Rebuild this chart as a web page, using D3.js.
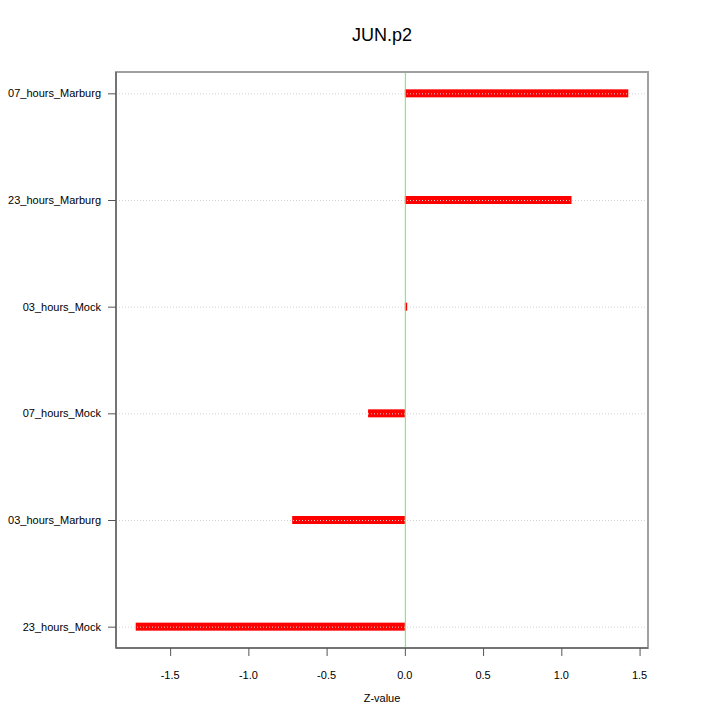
<!DOCTYPE html>
<html>
<head>
<meta charset="utf-8">
<script src="https://cdn.jsdelivr.net/npm/d3@7"></script>
<style>
  body { margin: 0; background: #fff; }
  svg { display: block; font-family: "Liberation Sans", Arial, Helvetica, sans-serif; }
</style>
</head>
<body>
<svg id="chart" width="720" height="720"></svg>
<script>
// data, bottom to top as plotted
const categories = ['23_hours_Mock', '03_hours_Marburg', '07_hours_Mock', '03_hours_Mock', '23_hours_Marburg', '07_hours_Marburg'];
const zValues = [-1.72, -0.72, -0.235, 0.015, 1.065, 1.428];
const xTicks = [-1.5, -1.0, -0.5, 0.0, 0.5, 1.0, 1.5];

const plotL = 116, plotR = 648, plotT = 72, plotB = 648;
const svg = d3.select('#chart');

// R style 4% padding
const xr = d3.extent(zValues);
const xpad = (xr[1] - xr[0]) * 0.04;
const x = d3.scaleLinear().domain([xr[0] - xpad, xr[1] + xpad]).range([plotL, plotR]);
const n = categories.length;
const ypad = (n - 1) * 0.04;
const y = d3.scaleLinear().domain([1 - ypad, n + ypad]).range([plotB, plotT]);

// bars
svg.append('g')
  .selectAll('rect')
  .data(zValues)
  .enter()
  .append('rect')
  .attr('x', d => Math.min(x(0), x(d)))
  .attr('width', d => Math.max(1.5, Math.abs(x(d) - x(0))))
  .attr('y', (d, i) => y(i + 1) - 4)
  .attr('height', 8)
  .attr('fill', '#ff0000');

// dotted grid on top of bars
svg.append('g')
  .selectAll('line')
  .data(categories)
  .enter()
  .append('line')
  .attr('x1', plotL)
  .attr('x2', plotR)
  .attr('y1', (d, i) => y(i + 1) + 0.5)
  .attr('y2', (d, i) => y(i + 1) + 0.5)
  .attr('stroke', '#d3d3d3')
  .attr('stroke-dasharray', '1,2');

// zero line
svg.append('line')
  .attr('x1', x(0) + 0.5)
  .attr('x2', x(0) + 0.5)
  .attr('y1', plotT)
  .attr('y2', plotB)
  .attr('stroke', '#5ef25e')
  .attr('stroke-width', 1);

// box
svg.append('rect')
  .attr('x', plotL)
  .attr('y', plotT)
  .attr('width', plotR - plotL)
  .attr('height', plotB - plotT)
  .attr('fill', 'none')
  .attr('stroke', '#a0a0a0')
  .attr('stroke-width', 2);

// x axis
const fmt = d => d3.format('.1f')(d).replace('\u2212', '-');
const xAxis = svg.append('g').attr('transform', `translate(0,${plotB})`);
xAxis.append('line')
  .attr('x1', plotL).attr('x2', plotR)
  .attr('stroke', '#666').attr('stroke-width', 1.5);
xAxis.selectAll('.tick')
  .data(xTicks)
  .enter()
  .append('line')
  .attr('x1', d => x(d) + 0.5).attr('x2', d => x(d) + 0.5)
  .attr('y1', 0).attr('y2', 8)
  .attr('stroke', '#555');
xAxis.selectAll('text')
  .data(xTicks)
  .enter()
  .append('text')
  .attr('x', d => x(d))
  .attr('y', 31)
  .attr('text-anchor', 'middle')
  .attr('font-size', 11)
  .text(fmt);

// y axis
const yAxis = svg.append('g');
yAxis.append('line')
  .attr('x1', plotL).attr('x2', plotL)
  .attr('y1', plotT).attr('y2', plotB)
  .attr('stroke', '#666').attr('stroke-width', 1.5);
yAxis.selectAll('.tick')
  .data(categories)
  .enter()
  .append('line')
  .attr('x1', plotL - 8).attr('x2', plotL)
  .attr('y1', (d, i) => y(i + 1) + 0.5)
  .attr('y2', (d, i) => y(i + 1) + 0.5)
  .attr('stroke', '#555');
yAxis.selectAll('text')
  .data(categories)
  .enter()
  .append('text')
  .attr('x', plotL - 15)
  .attr('y', (d, i) => y(i + 1) + 4)
  .attr('text-anchor', 'end')
  .attr('font-size', 11)
  .text(d => d);

// labels
svg.append('text')
  .attr('x', (plotL + plotR) / 2)
  .attr('y', 41)
  .attr('text-anchor', 'middle')
  .attr('font-size', 18)
  .text('JUN.p2');

svg.append('text')
  .attr('x', (plotL + plotR) / 2)
  .attr('y', 702)
  .attr('text-anchor', 'middle')
  .attr('font-size', 11)
  .text('Z-value');
</script>
</body>
</html>
